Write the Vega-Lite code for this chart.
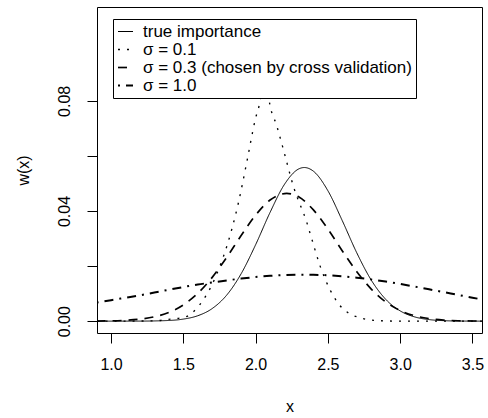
{
  "$schema": "https://vega.github.io/schema/vega-lite/v6.json",
  "width": 385,
  "height": 326,
  "autosize": {"type": "none"},
  "padding": {"left": 97, "top": 7, "right": 6, "bottom": 85},
  "background": "white",
  "config": {
    "font": "Liberation Sans",
    "view": {"stroke": "black", "strokeWidth": 1},
    "legend": {
      "orient": "none",
      "legendX": 16,
      "legendY": 12,
      "strokeColor": "black",
      "fillColor": "white",
      "cornerRadius": 0,
      "padding": 4,
      "rowPadding": 0,
      "labelFontSize": 17,
      "labelColor": "black",
      "labelFont": "Liberation Sans",
      "symbolType": "stroke",
      "symbolSize": 225,
      "symbolStrokeColor": "black",
      "labelLimit": 400,
      "labelOffset": 9
    }
  },
  "data": {
    "values": [
      {"x": 0.9, "w": 0.0, "s": "true importance"},
      {"x": 1.2, "w": 0.00002, "s": "true importance"},
      {"x": 1.4, "w": 0.00025, "s": "true importance"},
      {"x": 1.5, "w": 0.00075, "s": "true importance"},
      {"x": 1.6, "w": 0.00197, "s": "true importance"},
      {"x": 1.7, "w": 0.00459, "s": "true importance"},
      {"x": 1.8, "w": 0.00945, "s": "true importance"},
      {"x": 1.9, "w": 0.01722, "s": "true importance"},
      {"x": 2.0, "w": 0.02774, "s": "true importance"},
      {"x": 2.1, "w": 0.03949, "s": "true importance"},
      {"x": 2.2, "w": 0.04971, "s": "true importance"},
      {"x": 2.3, "w": 0.05533, "s": "true importance"},
      {"x": 2.337, "w": 0.0558, "s": "true importance"},
      {"x": 2.4, "w": 0.05446, "s": "true importance"},
      {"x": 2.5, "w": 0.04738, "s": "true importance"},
      {"x": 2.6, "w": 0.03645, "s": "true importance"},
      {"x": 2.7, "w": 0.0248, "s": "true importance"},
      {"x": 2.8, "w": 0.01491, "s": "true importance"},
      {"x": 2.9, "w": 0.00793, "s": "true importance"},
      {"x": 3.0, "w": 0.00373, "s": "true importance"},
      {"x": 3.1, "w": 0.00155, "s": "true importance"},
      {"x": 3.2, "w": 0.00057, "s": "true importance"},
      {"x": 3.3, "w": 0.00019, "s": "true importance"},
      {"x": 3.4, "w": 0.00005, "s": "true importance"},
      {"x": 3.6, "w": 0.0, "s": "true importance"},

      {"x": 0.9, "w": 0.0, "s": "σ = 0.1"},
      {"x": 1.3, "w": 0.0001, "s": "σ = 0.1"},
      {"x": 1.386, "w": 0.0006, "s": "σ = 0.1"},
      {"x": 1.512, "w": 0.0015, "s": "σ = 0.1"},
      {"x": 1.605, "w": 0.0054, "s": "σ = 0.1"},
      {"x": 1.72, "w": 0.0157, "s": "σ = 0.1"},
      {"x": 1.836, "w": 0.0335, "s": "σ = 0.1"},
      {"x": 1.882, "w": 0.0432, "s": "σ = 0.1"},
      {"x": 1.94, "w": 0.058, "s": "σ = 0.1"},
      {"x": 1.997, "w": 0.0731, "s": "σ = 0.1"},
      {"x": 2.032, "w": 0.0802, "s": "σ = 0.1"},
      {"x": 2.065, "w": 0.093, "s": "σ = 0.1"},
      {"x": 2.092, "w": 0.0808, "s": "σ = 0.1"},
      {"x": 2.148, "w": 0.0707, "s": "σ = 0.1"},
      {"x": 2.193, "w": 0.0622, "s": "σ = 0.1"},
      {"x": 2.262, "w": 0.0489, "s": "σ = 0.1"},
      {"x": 2.355, "w": 0.0357, "s": "σ = 0.1"},
      {"x": 2.39, "w": 0.0296, "s": "σ = 0.1"},
      {"x": 2.447, "w": 0.0199, "s": "σ = 0.1"},
      {"x": 2.517, "w": 0.0112, "s": "σ = 0.1"},
      {"x": 2.586, "w": 0.0055, "s": "σ = 0.1"},
      {"x": 2.62, "w": 0.0038, "s": "σ = 0.1"},
      {"x": 2.724, "w": 0.0012, "s": "σ = 0.1"},
      {"x": 2.85, "w": 0.0002, "s": "σ = 0.1"},
      {"x": 3.0, "w": 0.0, "s": "σ = 0.1"},
      {"x": 3.6, "w": 0.0, "s": "σ = 0.1"},

      {"x": 0.9, "w": 0.00004, "s": "σ = 0.3 (chosen by cross validation)"},
      {"x": 1.0, "w": 0.00012, "s": "σ = 0.3 (chosen by cross validation)"},
      {"x": 1.1, "w": 0.00031, "s": "σ = 0.3 (chosen by cross validation)"},
      {"x": 1.2, "w": 0.00073, "s": "σ = 0.3 (chosen by cross validation)"},
      {"x": 1.3, "w": 0.00158, "s": "σ = 0.3 (chosen by cross validation)"},
      {"x": 1.4, "w": 0.00318, "s": "σ = 0.3 (chosen by cross validation)"},
      {"x": 1.5, "w": 0.0059, "s": "σ = 0.3 (chosen by cross validation)"},
      {"x": 1.6, "w": 0.01009, "s": "σ = 0.3 (chosen by cross validation)"},
      {"x": 1.7, "w": 0.01591, "s": "σ = 0.3 (chosen by cross validation)"},
      {"x": 1.8, "w": 0.02316, "s": "σ = 0.3 (chosen by cross validation)"},
      {"x": 1.9, "w": 0.03109, "s": "σ = 0.3 (chosen by cross validation)"},
      {"x": 2.0, "w": 0.0385, "s": "σ = 0.3 (chosen by cross validation)"},
      {"x": 2.1, "w": 0.04399, "s": "σ = 0.3 (chosen by cross validation)"},
      {"x": 2.215, "w": 0.0464, "s": "σ = 0.3 (chosen by cross validation)"},
      {"x": 2.3, "w": 0.04507, "s": "σ = 0.3 (chosen by cross validation)"},
      {"x": 2.4, "w": 0.04041, "s": "σ = 0.3 (chosen by cross validation)"},
      {"x": 2.5, "w": 0.03343, "s": "σ = 0.3 (chosen by cross validation)"},
      {"x": 2.6, "w": 0.02551, "s": "σ = 0.3 (chosen by cross validation)"},
      {"x": 2.7, "w": 0.01796, "s": "σ = 0.3 (chosen by cross validation)"},
      {"x": 2.8, "w": 0.01166, "s": "σ = 0.3 (chosen by cross validation)"},
      {"x": 2.9, "w": 0.00698, "s": "σ = 0.3 (chosen by cross validation)"},
      {"x": 3.0, "w": 0.00386, "s": "σ = 0.3 (chosen by cross validation)"},
      {"x": 3.1, "w": 0.00197, "s": "σ = 0.3 (chosen by cross validation)"},
      {"x": 3.2, "w": 0.00093, "s": "σ = 0.3 (chosen by cross validation)"},
      {"x": 3.3, "w": 0.0004, "s": "σ = 0.3 (chosen by cross validation)"},
      {"x": 3.4, "w": 0.00016, "s": "σ = 0.3 (chosen by cross validation)"},
      {"x": 3.5, "w": 0.00006, "s": "σ = 0.3 (chosen by cross validation)"},
      {"x": 3.6, "w": 0.00002, "s": "σ = 0.3 (chosen by cross validation)"},

      {"x": 0.9, "w": 0.0068, "s": "σ = 1.0"},
      {"x": 1.0, "w": 0.0076, "s": "σ = 1.0"},
      {"x": 1.1, "w": 0.0085, "s": "σ = 1.0"},
      {"x": 1.2, "w": 0.0094, "s": "σ = 1.0"},
      {"x": 1.3, "w": 0.0104, "s": "σ = 1.0"},
      {"x": 1.4, "w": 0.0114, "s": "σ = 1.0"},
      {"x": 1.5, "w": 0.0124, "s": "σ = 1.0"},
      {"x": 1.6, "w": 0.0133, "s": "σ = 1.0"},
      {"x": 1.7, "w": 0.01405, "s": "σ = 1.0"},
      {"x": 1.8, "w": 0.0148, "s": "σ = 1.0"},
      {"x": 1.9, "w": 0.01546, "s": "σ = 1.0"},
      {"x": 2.0, "w": 0.01603, "s": "σ = 1.0"},
      {"x": 2.1, "w": 0.01647, "s": "σ = 1.0"},
      {"x": 2.2, "w": 0.01676, "s": "σ = 1.0"},
      {"x": 2.33, "w": 0.0169, "s": "σ = 1.0"},
      {"x": 2.4, "w": 0.01686, "s": "σ = 1.0"},
      {"x": 2.5, "w": 0.01666, "s": "σ = 1.0"},
      {"x": 2.6, "w": 0.0163, "s": "σ = 1.0"},
      {"x": 2.7, "w": 0.01578, "s": "σ = 1.0"},
      {"x": 2.8, "w": 0.01513, "s": "σ = 1.0"},
      {"x": 2.9, "w": 0.01437, "s": "σ = 1.0"},
      {"x": 3.0, "w": 0.0135, "s": "σ = 1.0"},
      {"x": 3.1, "w": 0.01256, "s": "σ = 1.0"},
      {"x": 3.2, "w": 0.01157, "s": "σ = 1.0"},
      {"x": 3.3, "w": 0.01056, "s": "σ = 1.0"},
      {"x": 3.4, "w": 0.00953, "s": "σ = 1.0"},
      {"x": 3.5, "w": 0.00852, "s": "σ = 1.0"},
      {"x": 3.6, "w": 0.00755, "s": "σ = 1.0"}
    ]
  },
  "mark": {"type": "line", "clip": true, "color": "black", "interpolate": "monotone"},
  "encoding": {
    "x": {
      "field": "x",
      "type": "quantitative",
      "scale": {"domain": [0.903, 3.566], "nice": false, "zero": false},
      "axis": {
        "title": "x",
        "titleFontSize": 16,
        "titleFontWeight": "normal",
        "titleColor": "black",
        "titlePadding": 26,
        "values": [1, 1.5, 2, 2.5, 3, 3.5],
        "format": ".1f",
        "labelFontSize": 16,
        "labelColor": "black",
        "labelPadding": 13,
        "tickSize": 10,
        "tickColor": "black",
        "domain": false,
        "grid": false,
        "labelFlush": false,
        "labelOverlap": false
      }
    },
    "y": {
      "field": "w",
      "type": "quantitative",
      "scale": {"domain": [-0.0043, 0.1141], "nice": false, "zero": false},
      "axis": {
        "title": "w(x)",
        "titleFontSize": 16,
        "titleFontWeight": "normal",
        "titleColor": "black",
        "titlePadding": 25,
        "values": [0, 0.02, 0.04, 0.06, 0.08],
        "labelExpr": "(datum.value > 0.01 && datum.value < 0.03) || (datum.value > 0.05 && datum.value < 0.07) ? '' : format(datum.value, '.2f')",
        "labelFontSize": 16,
        "labelColor": "black",
        "labelAngle": -90,
        "labelAlign": "center",
        "labelBaseline": "bottom",
        "labelPadding": 15,
        "tickSize": 10,
        "tickColor": "black",
        "domain": false,
        "grid": false,
        "labelFlush": false,
        "labelOverlap": false
      }
    },
    "strokeDash": {
      "field": "s",
      "type": "nominal",
      "scale": {
        "domain": ["true importance", "σ = 0.1", "σ = 0.3 (chosen by cross validation)", "σ = 1.0"],
        "range": [[1, 0], [2, 7], [9, 7], [2, 6, 9, 6]]
      },
      "legend": {"title": null}
    },
    "strokeWidth": {
      "field": "s",
      "type": "nominal",
      "scale": {
        "domain": ["true importance", "σ = 0.1", "σ = 0.3 (chosen by cross validation)", "σ = 1.0"],
        "range": [1, 2, 2, 2]
      },
      "legend": {"title": null}
    }
  }
}
